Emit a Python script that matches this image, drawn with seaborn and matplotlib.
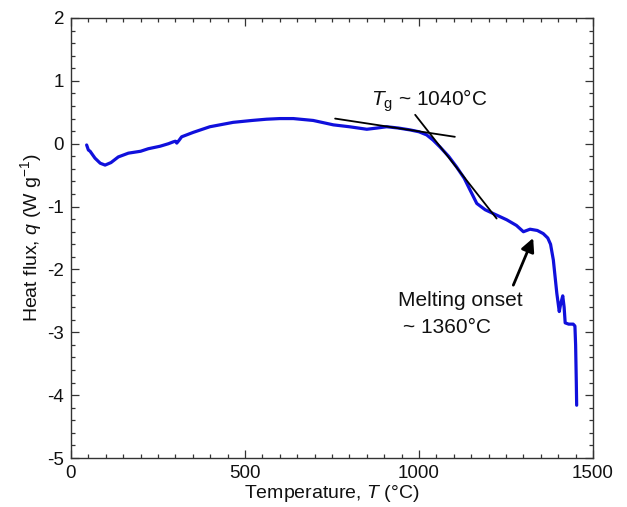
import matplotlib
matplotlib.use("Agg")
import matplotlib.pyplot as plt
from matplotlib.ticker import MultipleLocator
import seaborn as sns
import pandas as pd

# DSC heat-flux curve
temperature = [45, 50, 55, 69, 84, 98, 115, 136, 165, 200, 222, 256, 280, 294, 300, 304,
               310, 318, 351, 399, 466, 520, 562, 600, 639, 696, 754, 800, 850, 880,
               907, 940, 974, 1000, 1022, 1040, 1060, 1085, 1108, 1130, 1147, 1166,
               1190, 1213, 1252, 1280, 1300, 1319, 1340, 1357, 1370, 1378, 1386, 1396,
               1403, 1407, 1413, 1417, 1420, 1430, 1443, 1448, 1450, 1452, 1453]
heat_flux = [-0.02, -0.10, -0.12, -0.23, -0.31, -0.34, -0.30, -0.21, -0.15, -0.12, -0.08,
             -0.04, 0.00, 0.03, 0.04, 0.01, 0.05, 0.11, 0.18, 0.27, 0.34, 0.37, 0.39,
             0.40, 0.40, 0.37, 0.30, 0.27, 0.23, 0.25, 0.27, 0.25, 0.22, 0.19, 0.14,
             0.06, -0.05, -0.20, -0.37, -0.55, -0.74, -0.95, -1.05, -1.11, -1.21,
             -1.30, -1.40, -1.36, -1.38, -1.43, -1.50, -1.60, -1.85, -2.38, -2.67,
             -2.55, -2.42, -2.60, -2.85, -2.87, -2.87, -2.90, -3.20, -3.80, -4.16]

# Tangent lines used for the Tg construction
base_tangent_T = [759, 1103]
base_tangent_q = [0.40, 0.11]
slope_tangent_T = [989, 1223]
slope_tangent_q = [0.46, -1.19]

# Annotation anchors
tg_label = r"$T_{\mathrm{g}}$ ~ 1040°C"
tg_label_pos = (862, 0.68)
melt_label_1 = "Melting onset"
melt_label_1_pos = (940, -2.49)
melt_label_2 = "~ 1360°C"
melt_label_2_pos = (955, -2.93)
melt_arrow_tip = (1328, -1.50)
melt_arrow_tail = (1271, -2.25)

xticks = [0, 500, 1000, 1500]
yticks = [-5, -4, -3, -2, -1, 0, 1, 2]

sns.set_style("ticks")
plt.rcParams["font.family"] = ["Liberation Sans", "DejaVu Sans"]
plt.rcParams["mathtext.fontset"] = "custom"
plt.rcParams["mathtext.rm"] = "Liberation Sans"
plt.rcParams["mathtext.it"] = "Liberation Sans:italic"
plt.rcParams["mathtext.bf"] = "Liberation Sans:bold"
plt.rcParams["axes.unicode_minus"] = False

fig = plt.figure(figsize=(6.27, 5.07), dpi=100)
ax = fig.add_axes([0.1132, 0.0966, 0.8326, 0.8679])

df = pd.DataFrame({"T": temperature, "q": heat_flux})
sns.lineplot(data=df, x="T", y="q", ax=ax, sort=False, estimator=None,
             color="#1010dc", lw=2.3, solid_joinstyle="round", solid_capstyle="round")

ax.plot(base_tangent_T, base_tangent_q, color="black", lw=1.3)
ax.plot(slope_tangent_T, slope_tangent_q, color="black", lw=1.3)

ax.set_xlim(0, 1500)
ax.set_ylim(-5, 2)
ax.set_xticks(xticks)
ax.set_yticks(yticks)
ax.xaxis.set_minor_locator(MultipleLocator(50))
ax.yaxis.set_minor_locator(MultipleLocator(0.2))
ax.tick_params(which="both", direction="in", top=True, right=True,
               colors="#333333", labelcolor="#111111", width=0.9)
ax.tick_params(which="major", length=6, labelsize=13.5, pad=5)
ax.tick_params(which="minor", length=3)
for s in ax.spines.values():
    s.set_color("#333333")
    s.set_linewidth(1.0)

ax.set_xlabel("Temperature, $T$ (°C)", fontsize=14, labelpad=1, color="#111111")
ax.set_ylabel("Heat flux, $q$ (W g$^{-1}$)", fontsize=14, labelpad=2, color="#111111")

ax.text(tg_label_pos[0], tg_label_pos[1], tg_label, fontsize=15, va="center", ha="left",
        color="#111111")
ax.text(melt_label_1_pos[0], melt_label_1_pos[1], melt_label_1, fontsize=15,
        va="center", ha="left", color="#111111")
ax.text(melt_label_2_pos[0], melt_label_2_pos[1], melt_label_2, fontsize=15,
        va="center", ha="left", color="#111111")
ax.annotate("", xy=melt_arrow_tip, xytext=melt_arrow_tail,
            arrowprops=dict(arrowstyle="-|>", color="black", lw=2.0,
                            mutation_scale=20, shrinkA=0, shrinkB=0))

fig.savefig("out.png", dpi=100)
